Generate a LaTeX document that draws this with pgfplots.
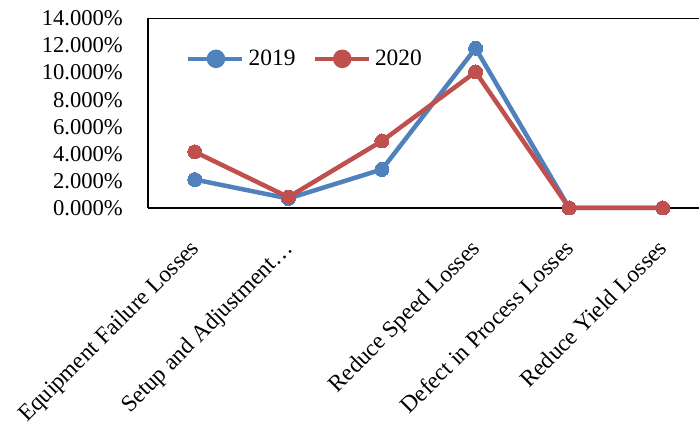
\documentclass[border=0pt]{standalone}
\usepackage{pgfplots}
\pgfplotsset{compat=1.18}
\usepackage{fontspec}
\setmainfont{Liberation Serif}
\definecolor{cblue}{HTML}{4F81BD}
\definecolor{cred}{HTML}{C0504D}
\begin{document}
\begin{tikzpicture}[x=1bp,y=1bp]
\begin{axis}[
  scale only axis,
  width=551bp, height=189.5bp,
  xmin=-0.5, xmax=5.387,
  ymin=0, ymax=14,
  axis x line=box,
  axis y line=left,
  y axis line style={-},
  axis line style={line width=1.6bp, black},
  major tick length=0pt,
  xtick={0,1,2,3,4,5},
  xticklabels={Equipment Failure Losses,Setup and Adjustment\dots,,Reduce Speed Losses,Defect in Process Losses,Reduce Yield Losses},
  xticklabel style={xshift=-6bp, yshift=-30bp, rotate=45, anchor=north east, inner sep=0pt, font=\fontsize{23.5}{27}\selectfont},
  ytick={0,2,4,6,8,10,12,14},
  yticklabels={0.000\%,2.000\%,4.000\%,6.000\%,8.000\%,10.000\%,12.000\%,14.000\%},
  yticklabel style={anchor=east, inner sep=0pt, xshift=-25bp, font=\fontsize{22.7}{26}\selectfont},
  legend style={draw=none, fill=none, at={(rel axis cs:0.069,0.837)}, anchor=north west,
    font=\fontsize{23.5}{27}\selectfont, inner sep=0pt, column sep=4bp,
    nodes={inner sep=0pt},
    /tikz/every even column/.append style={column sep=17bp}},
  legend columns=2,
  legend image code/.code={
    \draw[#1, mark=none] (0bp,0bp) -- (54bp,0bp);
    \fill[#1] (27.5bp,0bp) circle (7bp);
  },
  every axis plot/.append style={line width=4.5bp, mark=*, mark size=7bp},
  clip=false,
]
\addplot[cblue, mark options={fill=cblue, draw=cblue, line width=0pt}] coordinates {(0,2.1) (1,0.7) (2,2.85) (3,11.8) (4,0) (5,0)};
\addlegendentry{2019}
\addplot[cred, mark options={fill=cred, draw=cred, line width=0pt}] coordinates {(0,4.15) (1,0.8) (2,4.95) (3,10.05) (4,0) (5,0)};
\addlegendentry{2020}
\coordinate (bbA) at (rel axis cs:-0.2686,-1.1504);
\coordinate (bbB) at (rel axis cs:1.0,1.0976);
\end{axis}
\pgfresetboundingbox
\path[use as bounding box] (bbA) rectangle (bbB);
\end{tikzpicture}
\end{document}
